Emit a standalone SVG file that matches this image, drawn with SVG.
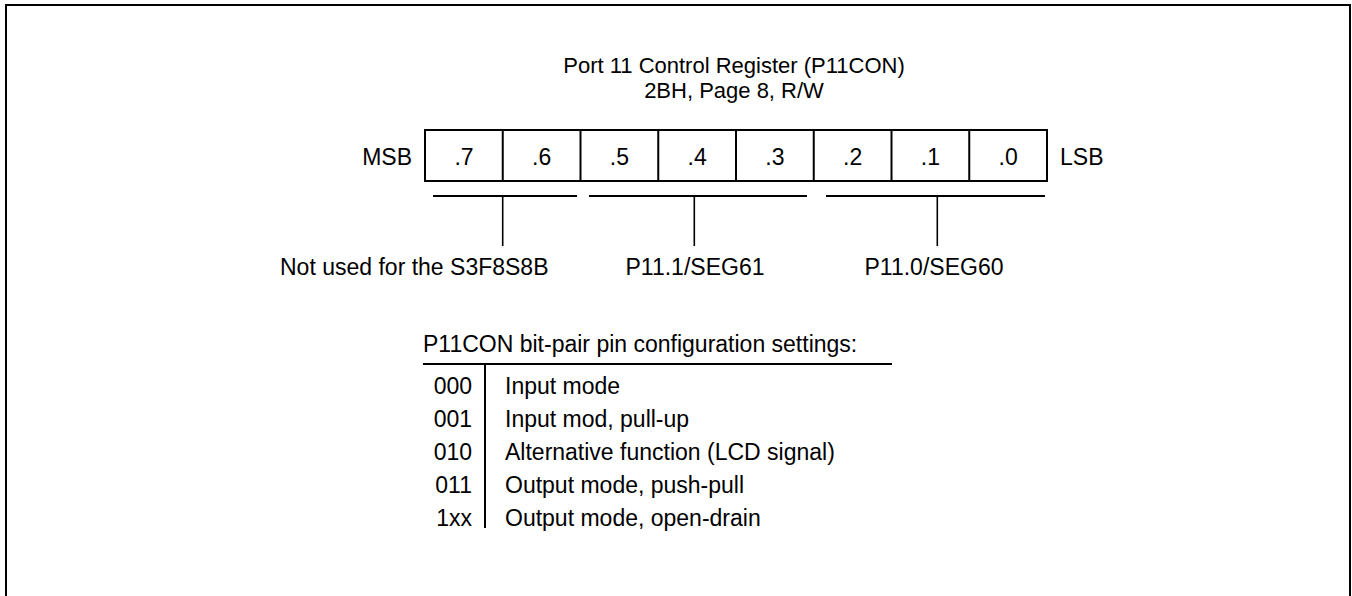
<svg xmlns="http://www.w3.org/2000/svg" width="1352" height="596" viewBox="0 0 1352 596">
<style>
text{font-family:"Liberation Sans",Arial,sans-serif;font-size:23px;fill:#000}
.c{text-anchor:middle}
.e{text-anchor:end}
.t{font-size:22px}
.ln{stroke:#000;stroke-width:2;fill:none}
.st{stroke:#000;stroke-width:1.6;fill:none}
</style>
<rect width="1352" height="596" fill="#fff"/>
<path class="ln" d="M6,596 V5 H1350 V596"/>
<g id="title">
<text class="c t" x="734" y="72.8">Port 11 Control Register (P11CON)</text>
<text class="c t" x="734" y="97.8">2BH, Page 8, R/W</text>
</g>
<g id="register">
<text class="e" x="412" y="165">MSB</text>
<rect class="ln" x="425" y="130" width="622" height="51"/>
<path class="ln" d="M502.75,130V181M580.5,130V181M658.25,130V181M736,130V181M813.75,130V181M891.5,130V181M969.25,130V181"/>
<text class="c" x="464" y="165">.7</text>
<text class="c" x="541.6" y="165">.6</text>
<text class="c" x="619.4" y="165">.5</text>
<text class="c" x="697.1" y="165">.4</text>
<text class="c" x="774.9" y="165">.3</text>
<text class="c" x="852.6" y="165">.2</text>
<text class="c" x="930.4" y="165">.1</text>
<text class="c" x="1008.1" y="165">.0</text>
<text x="1060" y="165">LSB</text>
</g>
<g id="connectors">
<path class="ln" d="M433,196H577M589,196H807M826,196H1045"/>
<path class="st" d="M502.7,197V246M694.3,197V246M937.3,197V246"/>
</g>
<g id="field-76">
<text x="280" y="275">Not used for the S3F8S8B</text>
</g>
<g id="field-543">
<text class="c" x="695" y="275">P11.1/SEG61</text>
</g>
<g id="field-210">
<text class="c" x="934" y="275">P11.0/SEG60</text>
</g>
<g id="settings">
<text x="423" y="352">P11CON bit-pair pin configuration settings:</text>
<path class="ln" d="M423,364H892"/>
<path class="ln" d="M485,364V528"/>
<text class="e" x="472" y="394">000</text>
<text x="505" y="394">Input mode</text>
<text class="e" x="472" y="427">001</text>
<text x="505" y="427">Input mod, pull-up</text>
<text class="e" x="472" y="459.5">010</text>
<text x="505" y="459.5">Alternative function (LCD signal)</text>
<text class="e" x="472" y="492.5">011</text>
<text x="505" y="492.5">Output mode, push-pull</text>
<text class="e" x="472" y="525.5">1xx</text>
<text x="505" y="525.5">Output mode, open-drain</text>
</g>
</svg>
